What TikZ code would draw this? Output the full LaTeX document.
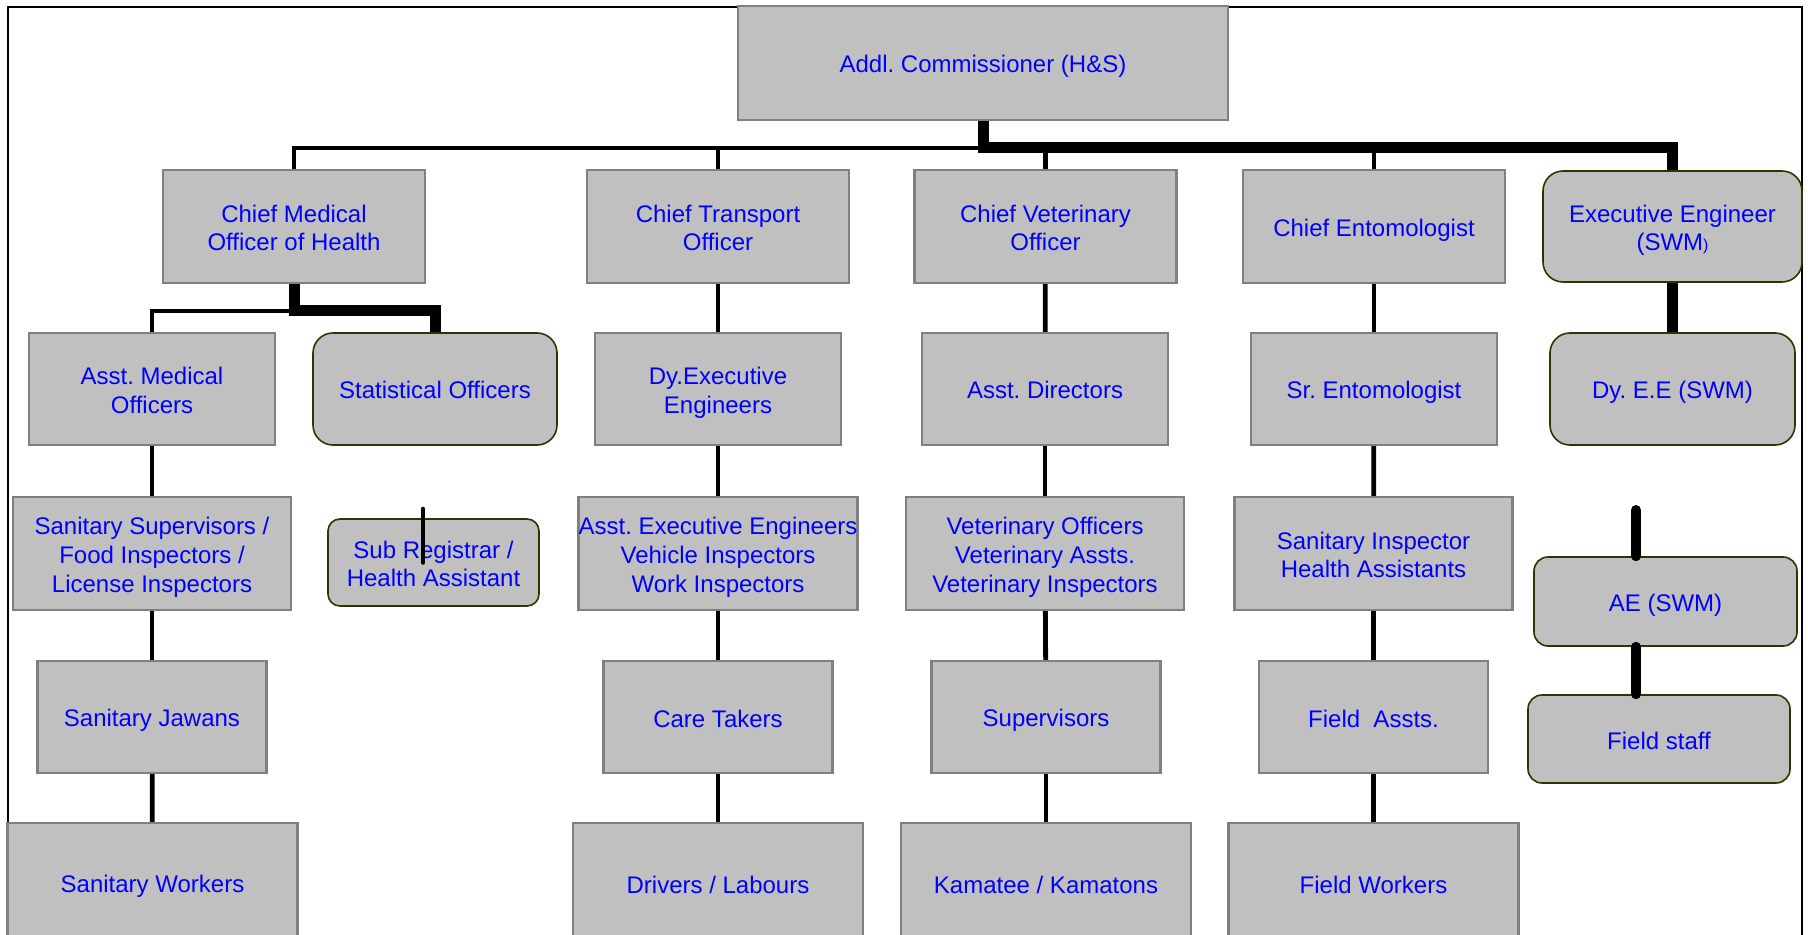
\documentclass[tikz,border=0pt]{standalone}
\usepackage{fontspec}
\setmainfont{Liberation Sans}
\definecolor{boxgray}{HTML}{C0C0C0}
\definecolor{boxedge}{HTML}{808080}
\definecolor{roundedge}{HTML}{333300}
\definecolor{boxblue}{HTML}{0000FF}
\newcommand\capline{\rule{0pt}{12.4pt}}
\frenchspacing
\begin{document}
\begin{tikzpicture}[x=0.5pt,y=-0.5pt,
  box/.style={rectangle,draw=boxedge,fill=boxgray,line width=1.2pt,text=boxblue,align=center,inner sep=0pt,font=\fontsize{12}{14.4}\selectfont,
    execute at begin node={\capline},execute at end node={\rule[-2.4pt]{0pt}{2.4pt}}},
  rbox/.style={box,draw=roundedge,line width=0.8pt,rounded corners=#1},
  rbox/.default=10pt,
  lvla/.style={minimum width=245pt,minimum height=57pt},
  lvlb/.style={minimum width=131pt,minimum height=56.5pt},
  lvlc/.style={minimum width=123pt,minimum height=56pt},
  lvld/.style={minimum width=139pt,minimum height=56.5pt},
  lvle/.style={minimum width=114.5pt,minimum height=56pt},
  lvlf/.style={minimum width=145pt,minimum height=60pt},
  link/.style={line width=2.4pt},
  tlink/.style={line width=5.5pt},
  stub/.style={line width=2.3pt,line cap=round},
  tstub/.style={line width=5pt,line cap=round}]
\useasboundingbox (0,0) rectangle (1808,935);
\clip (0,0) rectangle (1808,935);
\fill[white] (0,0) rectangle (1808,935);
\draw[line width=1pt] (8,950) -- (8,7) -- (1802,7) -- (1802,950);

\node[box,lvla] (addl) at (983,63) {Addl. Commissioner (H\&S)};

\node[box,lvlb] (cmo) at (294,226.5) {\capline Chief Medical\\Officer of Health};
\node[box,lvlb] (cto) at (718,226.5) {\capline Chief Transport\\Officer};
\node[box,lvlb] (cvo) at (1045.5,226.5) {\capline Chief Veterinary\\Officer};
\node[box,lvlb] (ce) at (1374,226.5) {Chief Entomologist};
\node[rbox,minimum width=129.5pt,minimum height=55.5pt] (ee) at (1672.5,226.5) {\capline Executive Engineer\\(SWM{\fontsize{8}{8}\selectfont)}};

\node[box,lvlc] (amo) at (152,389) {\capline Asst. Medical\\Officers};
\node[rbox,lvlc,minimum width=122pt] (stat) at (435,389) {Statistical Officers};
\node[box,lvlc] (dyee) at (718,389) {\capline Dy.Executive\\Engineers};
\node[box,lvlc] (ad) at (1045,389) {Asst. Directors};
\node[box,lvlc] (se) at (1374,389) {Sr. Entomologist};
\node[rbox,lvlc,minimum width=122.5pt] (dyswm) at (1672.5,389) {Dy. E.E (SWM)};

\node[box,lvld] (ssup) at (152,553.5) {\capline Sanitary Supervisors /\\Food Inspectors /\\License Inspectors};
\node[rbox=6pt,minimum width=105.5pt,minimum height=43.5pt] (subreg) at (433.5,562.5) {\capline Sub Registrar /\\Health Assistant};
\node[box,lvld] (aee) at (718,553.5) {\capline Asst. Executive Engineers\\Vehicle Inspectors\\Work Inspectors};
\node[box,lvld] (vo) at (1045,553.5) {\capline Veterinary Officers\\Veterinary Assts.\\Veterinary Inspectors};
\node[box,lvld] (si) at (1373.5,553.5) {\capline Sanitary Inspector\\Health Assistants};
\node[rbox=7pt,minimum width=131.5pt,minimum height=44.5pt] (ae) at (1665.5,601.5) {AE (SWM)};

\node[box,lvle] (sj) at (152,717) {Sanitary Jawans};
\node[box,lvle] (ct) at (718,717) {Care Takers};
\node[box,lvle] (sv) at (1046,717) {Supervisors};
\node[box,lvle] (fa) at (1373.5,717) {Field~~Assts.};
\node[rbox=7pt,minimum width=131pt,minimum height=44pt] (fs) at (1659,739) {Field staff};

\node[box,lvlf] (sw) at (152.5,883) {Sanitary Workers};
\node[box,lvlf] (dl) at (718,883) {Drivers / Labours};
\node[box,lvlf] (km) at (1046,883) {Kamatee / Kamatons};
\node[box,lvlf] (fw) at (1373.5,883) {Field Workers};

\coordinate (bus) at (984,148);
\coordinate (cmosplit) at (294,311);
\coordinate (srtop) at (423,509);
\coordinate (aestub) at (1636,510);

\draw[link] (cmo.north) |- (bus);
\draw[link] (cto.north) -- (cto.north |- bus);
\draw[link] (cvo.north) -- (cvo.north |- bus);
\draw[link] (ce.north) -- (ce.north |- bus);
\draw[tlink] (addl.south) -- (addl.south |- bus) -- (ee.north |- bus) -- (ee.north);

\draw[link] (amo.north) |- (cmosplit);
\draw[tlink] (cmo.south) -- (cmosplit) -| (stat.north);
\draw[link] (cto) -- (dyee);
\draw[link] (cvo) -- (ad);
\draw[link] (ce) -- (se);
\draw[tlink] (ee) -- (dyswm);

\draw[link] (amo) -- (ssup);
\draw[link] (dyee) -- (aee);
\draw[link] (ad) -- (vo);
\draw[link] (se) -- (si);

\draw[link] (ssup) -- (sj);
\draw[link] (aee) -- (ct);
\draw[link] (vo) -- (sv);
\draw[link] (si) -- (fa);

\draw[link] (sj) -- (sw);
\draw[link] (ct) -- (dl);
\draw[link] (sv) -- (km);
\draw[link] (fa) -- (fw);

\draw[stub] (srtop) -- (subreg.center -| srtop);
\draw[tstub] (aestub) -- (ae.north -| aestub);
\draw[tstub] (ae.south -| aestub) -- (fs.north -| aestub);
\end{tikzpicture}
\end{document}
